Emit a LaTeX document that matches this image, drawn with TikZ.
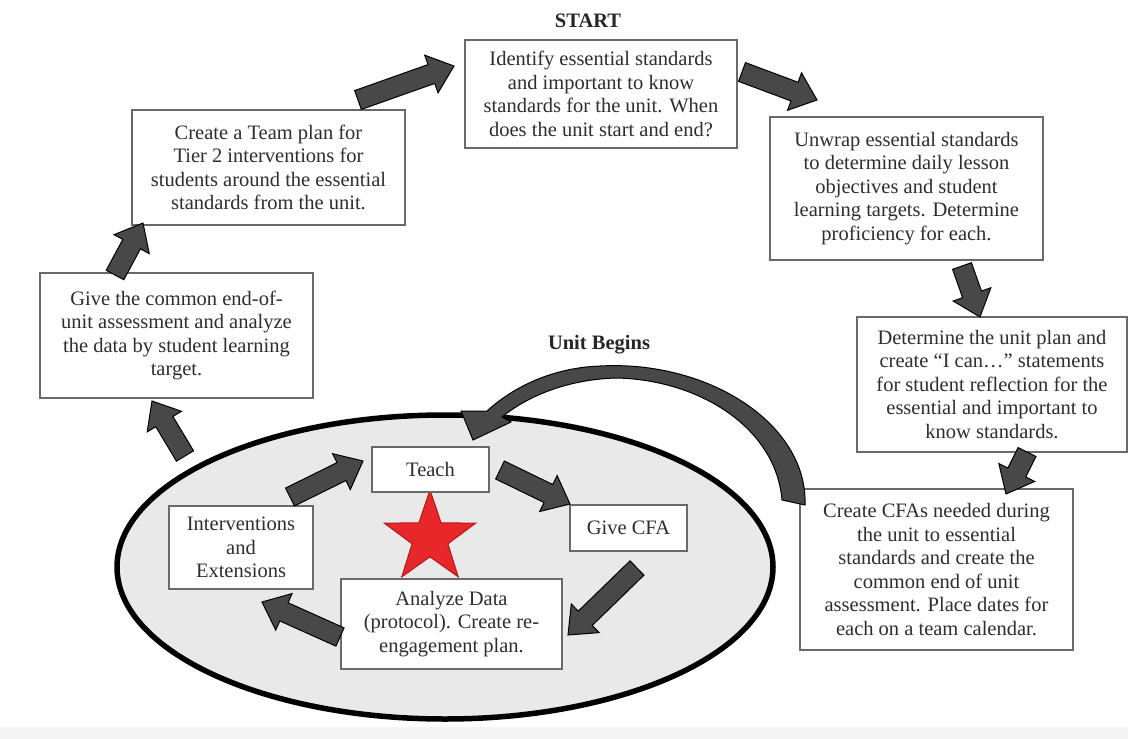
\documentclass[tikz,border=0pt]{standalone}
\usepackage{fontspec}
\setmainfont{Liberation Serif}
\usetikzlibrary{calc,shapes.geometric}
\definecolor{txt}{HTML}{2E2E2E}
\definecolor{boxline}{HTML}{6A6A6A}
\definecolor{arrowfill}{HTML}{484848}
\definecolor{ellfill}{HTML}{E9E9E9}
\definecolor{starred}{HTML}{E8272A}
\definecolor{stardraw}{HTML}{B5181B}
\newcommand\fatarrow[2]{%
  \coordinate (fa-b) at ($(#2)!24pt!(#1)$);
  \draw[fat] ($(#1)!10pt!90:(#2)$) -- ($(fa-b)!10pt!90:(#2)$) -- ($(fa-b)!20pt!90:(#2)$) -- (#2)
    -- ($(fa-b)!20pt!-90:(#2)$) -- ($(fa-b)!10pt!-90:(#2)$) -- ($(#1)!10pt!-90:(#2)$) -- cycle;}
\begin{document}
\begin{tikzpicture}[x=1pt,y=-1pt,
  box/.style={draw=boxline, line width=1.5pt, fill=white, align=center, inner sep=0pt,
    text=txt, font=\fontsize{20.5}{23.5}\selectfont},
  fat/.style={fill=arrowfill, draw=black, line width=1pt, line join=miter},
  titletext/.style={font=\fontsize{20.5}{24}\selectfont\bfseries, text=black!85}]
\useasboundingbox (0,0) rectangle (1128,739);
\fill[white] (0,0) rectangle (1128,739);
\fill[gray!8] (0,727) rectangle (1128,739);

% unit cycle
\node[ellipse, draw=black, line width=5.5pt, fill=ellfill, inner sep=0pt,
  minimum width=656pt, minimum height=304pt] (unitcycle) at (445,567) {};
\node[star, star points=5, star point ratio=2.55, minimum size=96pt, inner sep=0pt,
  fill=starred, draw=stardraw, line width=1pt] (star) at (430,538) {};

% titles
\node[titletext] (start) at (588,21) {START};
\node[titletext] (unitbegins) at (599,345) {Unit Begins};

% outer boxes
\node[box, minimum width=272pt, minimum height=108pt] (identify) at (601,94)
  {Identify essential standards\\and important to know\\standards for the unit. When\\does the unit start and end?};
\node[box, minimum width=273pt, minimum height=143pt] (unwrap) at (906.5,188.5)
  {Unwrap essential standards\\to determine daily lesson\\objectives and student\\learning targets. Determine\\proficiency for each.};
\node[box, minimum width=270pt, minimum height=135pt] (determine) at (992,384.5)
  {Determine the unit plan and\\create “I can…” statements\\for student reflection for the\\essential and important to\\know standards.};
\node[box, minimum width=273pt, minimum height=161pt] (cfa) at (936.5,569.5)
  {Create CFAs needed during\\the unit to essential\\standards and create the\\common end of unit\\assessment. Place dates for\\each on a team calendar.};
\node[box, minimum width=273pt, minimum height=115pt] (team) at (268.5,167.5)
  {Create a Team plan for\\Tier 2 interventions for\\students around the essential\\standards from the unit.};
\node[box, minimum width=273pt, minimum height=125pt] (give) at (176.5,335.5)
  {Give the common end-of-\\unit assessment and analyze\\the data by student learning\\target.};

% inner boxes
\node[box, minimum width=117pt, minimum height=45pt] (teach) at (430.5,469.5) {Teach};
\node[box, minimum width=117pt, minimum height=46pt] (givecfa) at (628.5,528) {Give CFA};
\node[box, minimum width=144pt, minimum height=83pt] (interv) at (241,547.5) {Interventions\\and\\Extensions};
\node[box, minimum width=221pt, minimum height=90pt] (analyze) at (451.5,624)
  {Analyze Data\\(protocol). Create re-\\engagement plan.};

% arrow end points
\coordinate (a1s) at (115,275);  \coordinate (a1e) at (143,223);
\coordinate (a2s) at (358,100);  \coordinate (a2e) at (454,66);
\coordinate (a3s) at (742,72);   \coordinate (a3e) at (817,100);
\coordinate (a4s) at (962,266);  \coordinate (a4e) at (980,317);
\coordinate (a5s) at (1027,452); \coordinate (a5e) at (1006,494);
\coordinate (a6s) at (185,456);  \coordinate (a6e) at (152,401);
\coordinate (a7s) at (290,497);  \coordinate (a7e) at (363,461);
\coordinate (a8s) at (500,470);  \coordinate (a8e) at (570,504);
\coordinate (a9s) at (637,568);  \coordinate (a9e) at (568,635);
\coordinate (a10s) at (340,637); \coordinate (a10e) at (262,602);

\fatarrow{a1s}{a1e}
\fatarrow{a2s}{a2e}
\fatarrow{a3s}{a3e}
\fatarrow{a4s}{a4e}
\fatarrow{a5s}{a5e}
\fatarrow{a6s}{a6e}
\fatarrow{a7s}{a7e}
\fatarrow{a8s}{a8e}
\fatarrow{a9s}{a9e}
\fatarrow{a10s}{a10e}

% curved arrow from CFA box back to Teach
\coordinate (cvtip) at (473,440);
\draw[fat] (805,505) .. controls (808,425) and (710,360) .. (600,366)
  .. controls (548,368) and (510,390) .. (487,411) -- (461,411) -- (cvtip) -- (511,422) -- (502,417)
  .. controls (530,394) and (572,379) .. (617,378)
  .. controls (700,380) and (776,428) .. (782,500) -- cycle;
\end{tikzpicture}
\end{document}
